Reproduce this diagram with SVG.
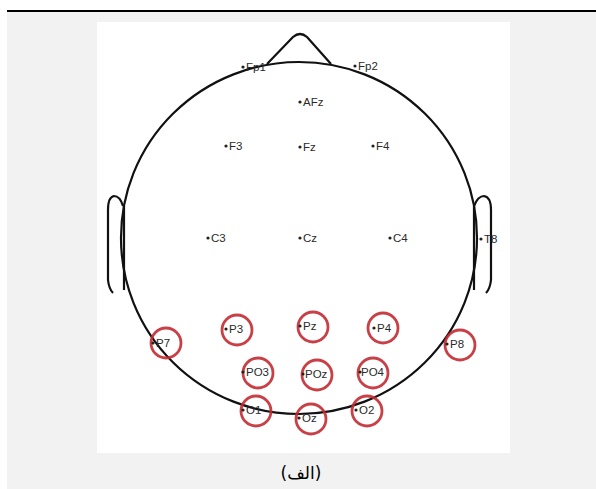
<svg xmlns="http://www.w3.org/2000/svg" width="596" height="489" viewBox="0 0 596 489">
<style>
.hd{fill:none;stroke:#111;stroke-width:2.2;stroke-linejoin:round}
.lb{font-family:"Liberation Sans",Arial,sans-serif;font-size:11.5px;fill:#2a2a2a}
.dt{fill:#222}
.rc{fill:none;stroke:#c22a32;stroke-width:2.8;stroke-opacity:0.9}
.cap{font-family:"DejaVu Sans","Noto Sans",sans-serif;font-size:17px;fill:#000}
</style>
<rect x="7" y="12" width="589" height="477" fill="#f2f2f2"/>
<line x1="7" y1="11" x2="596" y2="11" stroke="#000" stroke-width="2.2"/>
<rect x="97" y="22" width="413" height="431" fill="#fff"/>
<g id="head">
<ellipse class="hd" cx="299" cy="238" rx="178" ry="176"/>
<path class="hd" d="M267,64 L293,37 Q300,31 307,37 L331,64"/>
<path class="hd" d="M123,206 Q120,196 114,196 Q108,197 108,210 L108,280 Q109,289 113,293"/>
<path class="hd" d="M124,206 L124,290"/>
<path class="hd" d="M474,206 Q478,196 484,196 Q491,197 491,210 L491,280 Q490,289 486,293"/>
<path class="hd" d="M474,206 L474,290"/>
</g>
<g id="Fp1"><circle class="dt" cx="243" cy="67" r="1.6"/><text class="lb" x="246" y="71">Fp1</text></g>
<g id="Fp2"><circle class="dt" cx="355" cy="66" r="1.6"/><text class="lb" x="358" y="70">Fp2</text></g>
<g id="AFz"><circle class="dt" cx="300" cy="102" r="1.6"/><text class="lb" x="303" y="106">AFz</text></g>
<g id="F3"><circle class="dt" cx="226" cy="146" r="1.6"/><text class="lb" x="229" y="150">F3</text></g>
<g id="Fz"><circle class="dt" cx="300" cy="147" r="1.6"/><text class="lb" x="303" y="151">Fz</text></g>
<g id="F4"><circle class="dt" cx="373" cy="146" r="1.6"/><text class="lb" x="376" y="150">F4</text></g>
<g id="C3"><circle class="dt" cx="208" cy="238" r="1.6"/><text class="lb" x="211" y="242">C3</text></g>
<g id="Cz"><circle class="dt" cx="300" cy="238" r="1.6"/><text class="lb" x="303" y="242">Cz</text></g>
<g id="C4"><circle class="dt" cx="390" cy="238" r="1.6"/><text class="lb" x="393" y="242">C4</text></g>
<g id="T8"><circle class="dt" cx="481" cy="239" r="1.6"/><text class="lb" x="484" y="243">T8</text></g>
<g id="P7"><circle class="rc" cx="166" cy="343" r="15"/><circle class="dt" cx="153" cy="343" r="1.6"/><text class="lb" x="156" y="347">P7</text></g>
<g id="P3"><circle class="rc" cx="237" cy="330" r="15"/><circle class="dt" cx="226" cy="329" r="1.6"/><text class="lb" x="229" y="333">P3</text></g>
<g id="Pz"><circle class="rc" cx="313" cy="327" r="15"/><circle class="dt" cx="300" cy="326" r="1.6"/><text class="lb" x="303" y="330">Pz</text></g>
<g id="P4"><circle class="rc" cx="383" cy="328" r="15"/><circle class="dt" cx="374" cy="328" r="1.6"/><text class="lb" x="377" y="332">P4</text></g>
<g id="P8"><circle class="rc" cx="460" cy="345" r="15"/><circle class="dt" cx="447" cy="344" r="1.6"/><text class="lb" x="450" y="348">P8</text></g>
<g id="PO3"><circle class="rc" cx="258" cy="373" r="15"/><circle class="dt" cx="243" cy="372" r="1.6"/><text class="lb" x="246" y="376">PO3</text></g>
<g id="POz"><circle class="rc" cx="317" cy="375" r="15"/><circle class="dt" cx="303" cy="374" r="1.6"/><text class="lb" x="305" y="378">POz</text></g>
<g id="PO4"><circle class="rc" cx="373" cy="373" r="15"/><circle class="dt" cx="360" cy="372" r="1.6"/><text class="lb" x="361" y="376">PO4</text></g>
<g id="O1"><circle class="rc" cx="256" cy="411" r="15"/><circle class="dt" cx="243" cy="410" r="1.6"/><text class="lb" x="246" y="414">O1</text></g>
<g id="Oz"><circle class="rc" cx="311" cy="419" r="15"/><circle class="dt" cx="299" cy="418" r="1.6"/><text class="lb" x="302" y="422">Oz</text></g>
<g id="O2"><circle class="rc" cx="367" cy="411" r="15"/><circle class="dt" cx="356" cy="410" r="1.6"/><text class="lb" x="359" y="414">O2</text></g>
<g id="connectors"></g>
<text class="cap" x="301" y="479" text-anchor="middle" direction="rtl">(الف)</text>
</svg>
